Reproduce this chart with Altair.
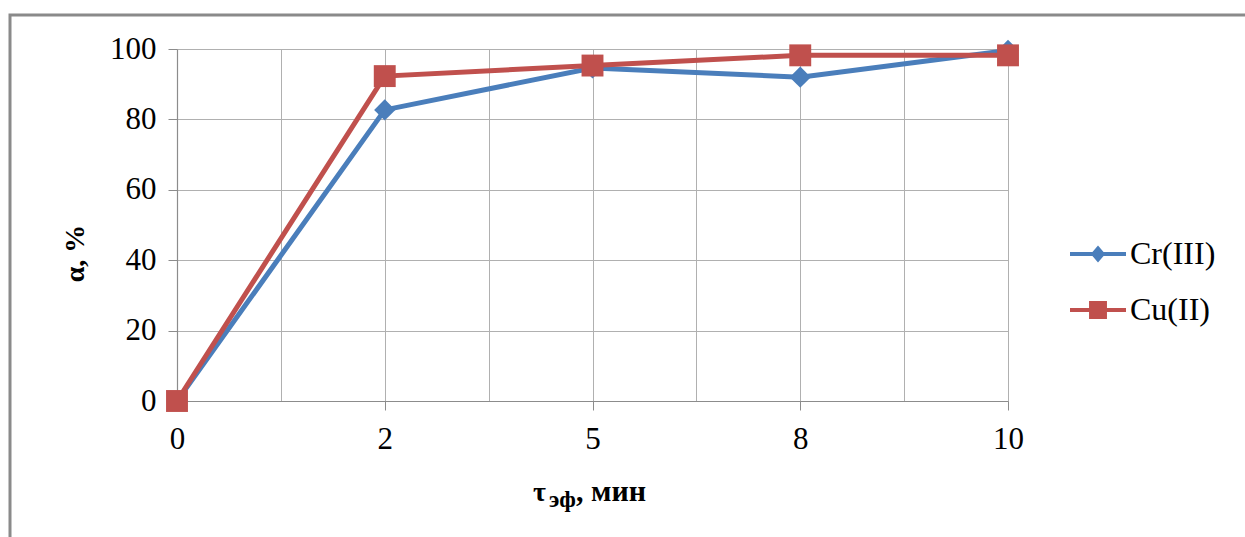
import altair as alt
import pandas as pd

# Effective time categories (equally spaced on the category axis)
time_labels = ["0", "2", "5", "8", "10"]
series_names = ["Cr(III)", "Cu(II)"]
cr_values = [0, 82.7, 94.6, 92.0, 99.6]
cu_values = [0, 92.3, 95.3, 98.2, 98.2]

colors = ["#4A7EBB", "#C0504D"]
# legend glyphs: a horizontal line segment with the marker in the middle
legend_glyphs = [
    "M-1,-0.075 H1 V0.075 H-1 Z M0,-0.3 L0.26,0 L0,0.3 L-0.26,0 Z",
    "M-1,-0.075 H1 V0.075 H-1 Z M-0.32,-0.32 H0.32 V0.32 H-0.32 Z",
]

rows = []
for i, t in enumerate(time_labels):
    rows.append({"idx": i, "time": t, "series": series_names[0], "value": cr_values[i]})
    rows.append({"idx": i, "time": t, "series": series_names[1], "value": cu_values[i]})
df = pd.DataFrame(rows)

FONT = "Liberation Serif"
GRID = "#b0b0b0"

label_list = "[" + ",".join(f"'{t}'" for t in time_labels) + "]"

x_enc = alt.X(
    "idx:Q",
    scale=alt.Scale(domain=[0, len(time_labels) - 1], nice=False, zero=False),
    axis=alt.Axis(
        values=[i / 2 for i in range(2 * (len(time_labels) - 1) + 1)],
        labelExpr=f"datum.value % 1 === 0 ? {label_list}[datum.value] : ''",
        title=None,
        grid=True,
        gridColor=GRID,
        gridWidth=1,
        domainColor="#8c8c8c",
        domainWidth=1.2,
        tickColor="#8c8c8c",
        tickSize=9,
        tickOpacity={"condition": {"test": "datum.value % 1 === 0", "value": 1}, "value": 0},
        labelFont=FONT,
        labelFontSize=31,
        labelColor="#000000",
        labelPadding=14,
        labelFlush=False,
    ),
)
y_enc = alt.Y(
    "value:Q",
    scale=alt.Scale(domain=[0, 100], nice=False),
    axis=alt.Axis(
        values=[0, 20, 40, 60, 80, 100],
        title="α, %",
        titleFont=FONT,
        titleFontSize=28,
        titleFontWeight="bold",
        titleColor="#000000",
        titleAngle=270,
        titleAlign="center",
        titleBaseline="middle",
        titleX=-102,
        titleY=204,
        grid=True,
        gridColor=GRID,
        gridWidth=1,
        domainColor="#8c8c8c",
        domainWidth=1.2,
        tickColor="#8c8c8c",
        tickSize=9,
        labelFont=FONT,
        labelFontSize=31,
        labelColor="#000000",
        labelPadding=12,
        labelBaseline="middle",
    ),
)

color_scale = alt.Scale(domain=series_names, range=colors)

legend_props = dict(
    title=None,
    orient="none",
    legendX=893,
    legendY=177,
    symbolSize=3136,
    symbolStrokeWidth=0,
    symbolOpacity=1,
    labelFont=FONT,
    labelFontSize=32,
    labelColor="#000000",
    labelOffset=4,
    rowPadding=12,
    padding=0,
)

color_enc = alt.Color("series:N", scale=color_scale, legend=alt.Legend(**legend_props))

lines = alt.Chart(df).mark_line(strokeWidth=5).encode(
    x=x_enc,
    y=y_enc,
    color=color_enc,
    order="idx:Q",
)

points = alt.Chart(df).mark_point(filled=True, opacity=1).encode(
    x="idx:Q",
    y="value:Q",
    color=color_enc,
    shape=alt.condition("datum.series === 'Cu(II)'", alt.value("square"), alt.value("diamond")),
    size=alt.condition("datum.series === 'Cu(II)'", alt.value(480), alt.value(450)),
)

legend_layer = alt.Chart(df).transform_filter("datum.idx < 0").mark_point(filled=True, opacity=1).encode(
    x="idx:Q",
    y="value:Q",
    color=color_enc,
    shape=alt.Shape(
        "series:N",
        scale=alt.Scale(domain=series_names, range=legend_glyphs),
        legend=alt.Legend(**legend_props),
    ),
)

# x-axis title with subscript, built from three text pieces
def title_piece(text, x, y, size):
    return alt.Chart(alt.Data(values=[{}])).mark_text(
        text=text, font=FONT, fontSize=size, fontWeight="bold", color="#000000",
        align="left", baseline="alphabetic",
    ).encode(x=alt.value(x), y=alt.value(y))

title_main = title_piece("τ", 356, 452, 28)
title_sub = title_piece("эф", 372, 458, 24)
title_rest = title_piece(", мин", 399, 452, 30)

frame = alt.Chart(alt.Data(values=[{}])).mark_rect(
    fill=None, stroke="#8a8a8a", strokeWidth=3
).encode(x=alt.value(-167), x2=alt.value(1200), y=alt.value(-34), y2=alt.value(600))

chart = (
    alt.layer(frame, lines, points, legend_layer, title_main, title_sub, title_rest)
    .properties(
        width=831,
        height=352,
        padding={"left": 177, "top": 49, "right": 237, "bottom": 136},
        autosize=alt.AutoSizeParams(type="none"),
        background="#ffffff",
    )
    .configure_view(stroke=None)
)

chart.save("out.html", embed_options={"renderer": "svg", "actions": False})
